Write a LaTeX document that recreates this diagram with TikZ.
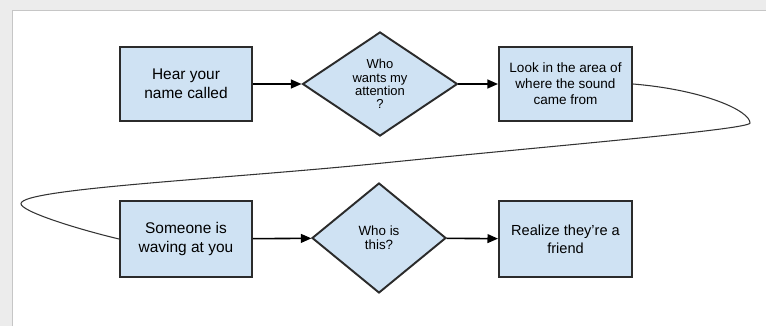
\documentclass[tikz,border=0pt]{standalone}
\usepackage{fontspec}
\setmainfont{Liberation Sans}
\usepackage[HTML]{xcolor}
\usetikzlibrary{positioning, arrows.meta, shapes.geometric}

\definecolor{boxblue}{HTML}{CFE2F3}
\definecolor{edgegray}{HTML}{2B2B2B}

\tikzset{
  actbox/.style={draw=edgegray, line width=1.1pt, fill=boxblue, align=center,
    minimum width=2.64cm, minimum height=1.48cm, inner sep=0pt},
  askdiam/.style={diamond, aspect=1.5, draw=edgegray, line width=1.1pt, fill=boxblue,
    align=center, inner sep=0pt},
  flowarrow/.style={line width=0.9pt, -{Triangle[length=6pt,width=5pt]}},
  loopline/.style={line width=0.6pt, draw=black!80}
}

\begin{document}
\begin{tikzpicture}[scale=1.0]
\useasboundingbox (0,0) rectangle (15.32,6.52);
% card and its frame
\fill[gray!15] (0,0) rectangle (15.32,6.52);
\fill[white] (0.24,0) rectangle (15.32,6.32);
\draw[gray!45, line width=0.4pt] (0.24,0) -- (0.24,6.32) -- (15.32,6.32);

% top row
\node[actbox, font=\fontsize{8.8}{10.8}\selectfont] (hear) at (3.72,4.84) {Hear your\\name called};
\node[askdiam, minimum width=3.1cm, minimum height=2.08cm, font=\fontsize{7.4}{7.5}\selectfont] (wants) at (7.60,4.84) {Who\\wants my\\attention\\?};
\node[actbox, minimum width=2.66cm, font=\fontsize{7.7}{9.1}\selectfont] (look) at (11.31,4.84) {Look in the area of\\where the sound\\came from};

% bottom row
\node[actbox, minimum height=1.52cm, font=\fontsize{8.8}{10.8}\selectfont] (waving) at (3.72,1.74) {Someone is\\waving at you};
\node[askdiam, minimum width=2.68cm, minimum height=2.2cm, font=\fontsize{7.6}{8.2}\selectfont] (whois) at (7.58,1.76) {Who is\\this?};
\node[actbox, minimum width=2.66cm, minimum height=1.52cm, font=\fontsize{8.3}{10.2}\selectfont] (friend) at (11.31,1.74) {Realize they're a\\friend};

\draw[flowarrow] (hear) -- (wants);
\draw[flowarrow] (wants) -- (look);
\draw[flowarrow] (waving) -- (whois);
\draw[flowarrow] (whois) -- (friend);

% the long loop back to the second row
\coordinate (turnR) at (15.0,4.06);
\coordinate (midL) at (7.66,3.26);
\coordinate (turnL) at (0.42,2.45);
\draw[loopline] (look.east) .. controls (14.1,4.72) and (15.0,4.3) .. (turnR)
  .. controls (15.0,3.93) and (11,3.6) .. (midL)
  .. controls (4.5,2.94) and (0.45,2.75) .. (turnL)
  .. controls (0.4,2.3) and (1.5,1.95) .. (waving.west);
\end{tikzpicture}
\end{document}
